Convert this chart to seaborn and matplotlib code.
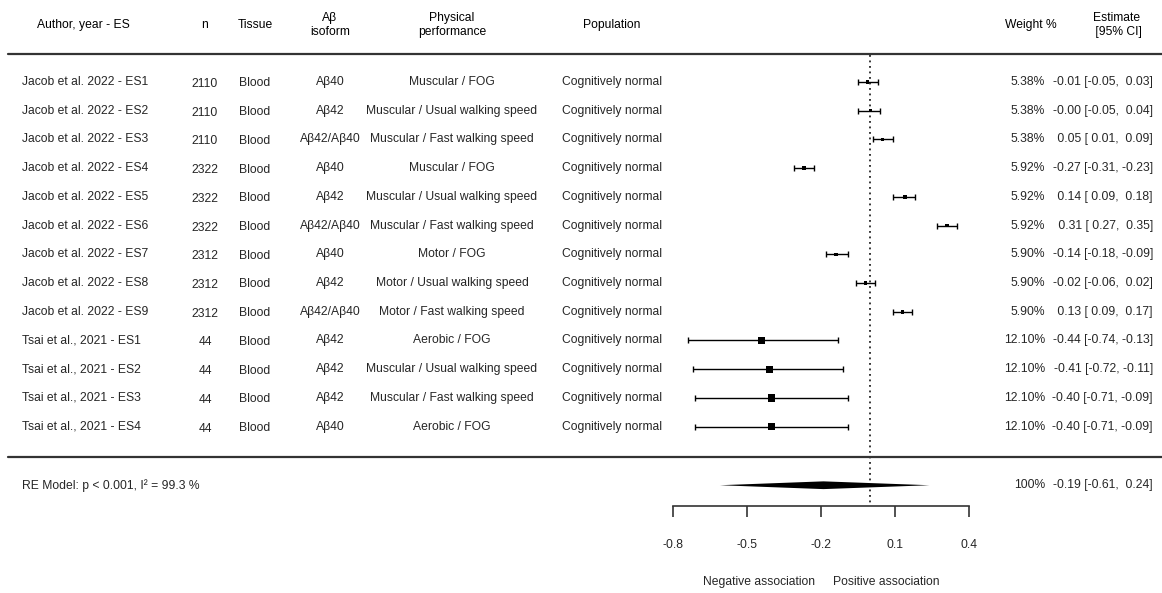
import numpy as np
import pandas as pd
import matplotlib.pyplot as plt
import matplotlib.transforms as mtransforms
import seaborn as sns

studies = ["Jacob et al. 2022 - ES1", "Jacob et al. 2022 - ES2", "Jacob et al. 2022 - ES3",
           "Jacob et al. 2022 - ES4", "Jacob et al. 2022 - ES5", "Jacob et al. 2022 - ES6",
           "Jacob et al. 2022 - ES7", "Jacob et al. 2022 - ES8", "Jacob et al. 2022 - ES9",
           "Tsai et al., 2021 - ES1", "Tsai et al., 2021 - ES2", "Tsai et al., 2021 - ES3",
           "Tsai et al., 2021 - ES4"]
n_sizes = [2110, 2110, 2110, 2322, 2322, 2322, 2312, 2312, 2312, 44, 44, 44, 44]
tissue = ["Blood"] * 13
isoform = ["Aβ40", "Aβ42", "Aβ42/Aβ40", "Aβ40", "Aβ42", "Aβ42/Aβ40",
           "Aβ40", "Aβ42", "Aβ42/Aβ40", "Aβ42", "Aβ42", "Aβ42", "Aβ40"]
performance = ["Muscular / FOG", "Muscular / Usual walking speed", "Muscular / Fast walking speed",
               "Muscular / FOG", "Muscular / Usual walking speed", "Muscular / Fast walking speed",
               "Motor / FOG", "Motor / Usual walking speed", "Motor / Fast walking speed",
               "Aerobic / FOG", "Muscular / Usual walking speed", "Muscular / Fast walking speed",
               "Aerobic / FOG"]
population = ["Cognitively normal"] * 13
weights = [5.38, 5.38, 5.38, 5.92, 5.92, 5.92, 5.90, 5.90, 5.90, 12.10, 12.10, 12.10, 12.10]
estimates = [-0.01, -0.00, 0.05, -0.27, 0.14, 0.31, -0.14, -0.02, 0.13, -0.44, -0.41, -0.40, -0.40]
ci_low = [-0.05, -0.05, 0.01, -0.31, 0.09, 0.27, -0.18, -0.06, 0.09, -0.74, -0.72, -0.71, -0.71]
ci_high = [0.03, 0.04, 0.09, -0.23, 0.18, 0.35, -0.09, 0.02, 0.17, -0.13, -0.11, -0.09, -0.09]

pooled_est, pooled_low, pooled_high = -0.19, -0.61, 0.24
pooled_label = "RE Model: p < 0.001, I² = 99.3 %"

xticks = [-0.8, -0.5, -0.2, 0.1, 0.4]
xtick_labels = ["-0.8", "-0.5", "-0.2", "0.1", "0.4"]

headers = ["Author, year - ES", "n", "Tissue", "Aβ\nisoform", "Physical\nperformance",
           "Population", "Weight %", "Estimate\n [95% CI]"]

sns.set_theme(style="white")
plt.rcParams['font.family'] = ['Liberation Sans', 'DejaVu Sans']
FS = 8.7

W, H = 1162, 593
ROW = 28.72          # pixel height of one row
Y0 = 82              # pixel y of first row
AX_BOTTOM = 506      # pixel y of the axis line

df = pd.DataFrame({"study": studies, "weight": weights, "estimate": estimates,
                   "low": ci_low, "high": ci_high})
df["row"] = np.arange(len(df))

fig = plt.figure(figsize=(W / 100, H / 100), dpi=100)
ax = fig.add_axes([0, (H - AX_BOTTOM) / H, 1, AX_BOTTOM / H])

# forest region: -0.8 at px 673, 0.4 at px 969
ppu = (969 - 673) / 1.2
ax.set_xlim(-0.8 - 673 / ppu, -0.8 + (W - 673) / ppu)
ax.set_ylim((AX_BOTTOM - Y0) / ROW, -Y0 / ROW)

# CIs
ax.errorbar(df["estimate"], df["row"],
            xerr=[df["estimate"] - df["low"], df["high"] - df["estimate"]],
            fmt="none", ecolor="black", elinewidth=1, capsize=1.9, capthick=1, zorder=2)

# squares sized by weight
size_map = {w: (7.3 * 0.72 * w / max(weights)) ** 2 for w in set(weights)}
sns.scatterplot(data=df, x="estimate", y="row", size="weight", sizes=size_map,
                marker="s", color="black", linewidth=0, legend=False, ax=ax, zorder=3)

# summary diamond
yd = 14.04
hd = 0.135
ax.fill([pooled_low, pooled_est, pooled_high, pooled_est], [yd, yd - hd, yd, yd + hd],
        color="black", lw=0)

# reference line at 0
ax.plot([0, 0], [-0.93, (AX_BOTTOM - Y0) / ROW], color="black", lw=1.1,
        ls=(0, (1.2, 2.4)), clip_on=False)

trans = mtransforms.blended_transform_factory(fig.transFigure, ax.transData)

# horizontal rules
for yl in [-0.97, 13.07]:
    ax.plot([8 / W, 1], [yl, yl], transform=trans, color="#333333", lw=1.6, clip_on=False)

# headers
header_x = [83, 205, 255, 330, 452, 612, 1031, 1117]
for hx, txt in zip(header_x, headers):
    ax.text(hx / W, -1.98, txt, transform=trans, ha="center", va="center",
            fontsize=FS, linespacing=1.25, color="black")

# table columns
for i in range(len(df)):
    ax.text(22 / W, i, studies[i], transform=trans, ha="left", va="center", fontsize=FS)
    ax.text(205 / W, i + 0.07, str(n_sizes[i]), transform=trans, ha="center", va="center", fontsize=FS)
    ax.text(255 / W, i + 0.05, tissue[i], transform=trans, ha="center", va="center", fontsize=FS)
    ax.text(330 / W, i, isoform[i], transform=trans, ha="center", va="center", fontsize=FS)
    ax.text(452 / W, i, performance[i], transform=trans, ha="center", va="center", fontsize=FS)
    ax.text(612 / W, i, population[i], transform=trans, ha="center", va="center", fontsize=FS)
    ax.text(1045 / W, i, f"{weights[i]:.2f}%", transform=trans, ha="right", va="center", fontsize=FS)
    ax.text(1153 / W, i, f"{estimates[i]:5.2f} [{ci_low[i]:5.2f}, {ci_high[i]:5.2f}]",
            transform=trans, ha="right", va="center", fontsize=FS)

# summary row
ax.text(22 / W, yd, pooled_label, transform=trans, ha="left", va="center", fontsize=FS)
ax.text(1045 / W, yd, "100%", transform=trans, ha="right", va="center", fontsize=FS)
ax.text(1153 / W, yd, f"{pooled_est:5.2f} [{pooled_low:5.2f}, {pooled_high:5.2f}]",
        transform=trans, ha="right", va="center", fontsize=FS)

# association labels
y_assoc = (582 - Y0) / ROW
ax.text(-0.224, y_assoc, "Negative association", ha="right", va="center", fontsize=FS, clip_on=False)
ax.text(-0.151, y_assoc, "Positive association", ha="left", va="center", fontsize=FS, clip_on=False)

# x axis
sns.despine(ax=ax, left=True, top=True, right=True)
ax.spines["bottom"].set_bounds(-0.8, 0.4)
ax.spines["bottom"].set_color("#333333")
ax.spines["bottom"].set_linewidth(1.2)
ax.set_xticks(xticks)
ax.set_xticklabels(xtick_labels)
ax.tick_params(axis="x", direction="out", length=8, width=1.2, color="#333333",
               pad=16, labelsize=FS, bottom=True)
ax.set_yticks([])
ax.set_xlabel("")
ax.set_ylabel("")
ax.patch.set_alpha(0)

fig.savefig("out.png", dpi=100)
